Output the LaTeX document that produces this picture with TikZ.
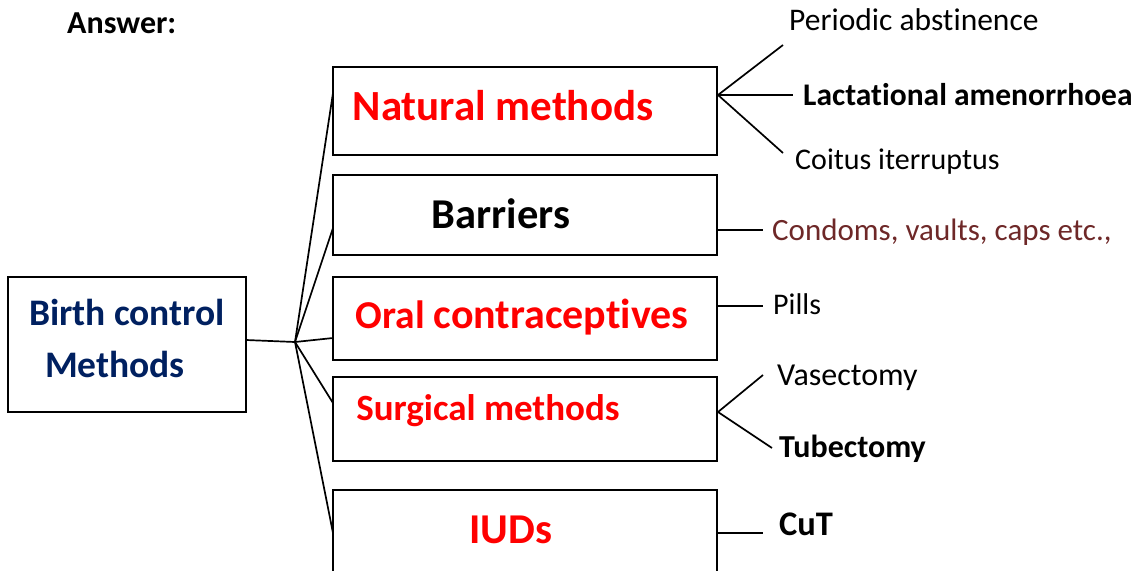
\documentclass[tikz,border=0pt]{standalone}
\usepackage{fontspec}
\setmainfont{Carlito}[Ligatures=CommonOff]
\definecolor{navy}{RGB}{0,32,96}
\definecolor{maroon}{RGB}{110,40,40}
\newcommand{\fs}[1]{\fontsize{#1}{#1}\selectfont}
\begin{document}
\begin{tikzpicture}[x=1pt,y=-1pt,
  box/.style={draw,line width=1.8pt,inner sep=0pt},
  link/.style={line width=1.7pt},
  leaf/.style={anchor=west,inner sep=0pt}]
\useasboundingbox (0,0) rectangle (1139,570);
\begin{scope}
\clip (0,0) rectangle (1139,570);
% heading
\node[leaf,font=\fs{32}\bfseries] (ans) at (67,23) {Answer:};

% root box
\draw[box] (8,277) rectangle (246,412);
\coordinate (rootE) at (246,340);
\node[font=\fs{37.5}\bfseries,text=navy] (root1) at (127,312) {Birth control};
\node[font=\fs{37.5}\bfseries,text=navy] (root2) at (115,364) {Methods};

% category boxes
\draw[box] (333,67) rectangle (717,155);
\draw[box] (333,175) rectangle (717,255);
\draw[box] (333,277) rectangle (717,360);
\draw[box] (333,377) rectangle (717,461);
\draw[box] (333,490) rectangle (717,575);

\node[font=\fs{43}\bfseries,text=red] (nat) at (503,106) {Natural methods};
\node[font=\fs{42.5}\bfseries] (bar) at (501,214) {Barriers};
\node[font=\bfseries,text=red] (oral) at (522,317) {\fs{39.5}Oral \fs{42}contraceptives};
\node[font=\fs{37}\bfseries,text=red] (surg) at (488,411) {Surgical methods};
\node[font=\fs{42.5}\bfseries,text=red] (iud) at (511,530) {IUDs};

% fan from the root to the categories
\coordinate (hub) at (295,342);
\coordinate (natW) at (333,93);
\coordinate (barW) at (333,228);
\coordinate (oralW) at (333,338);
\coordinate (surgW) at (333,403);
\coordinate (iudW) at (333,533);
\draw[link] (rootE) -- (hub);
\foreach \t in {natW,barW,oralW,surgW,iudW} \draw[link] (hub) -- (\t);

% natural methods
\coordinate (natE) at (718,95);
\coordinate (n1) at (783,45);
\coordinate (n2) at (793,95);
\coordinate (n3) at (783,153);
\draw[link] (natE) -- (n1);
\draw[link] (natE) -- (n2);
\draw[link] (natE) -- (n3);
\node[leaf,font=\fs{31.5}] (pa) at (789,20) {Periodic abstinence};
\node[leaf,font=\fs{31.5}\bfseries] (la) at (803,95) {Lactational amenorrhoea};
\node[leaf,font=\fs{30}] (ci) at (795,162) {Coitus iterruptus};

% barriers
\coordinate (barE) at (718,230);
\coordinate (b1) at (763,230);
\draw[link] (barE) -- (b1);
\node[leaf,font=\fs{31}\color{maroon}] (cv) at (772,232) {Condoms, vaults, caps etc.,};

% oral contraceptives
\coordinate (oralE) at (718,306);
\coordinate (o1) at (763,306);
\draw[link] (oralE) -- (o1);
\node[leaf,font=\fs{30}] (pi) at (773,304) {Pills};

% surgical methods
\coordinate (surgE) at (718,412);
\coordinate (s1) at (763,375);
\coordinate (s2) at (772,448);
\draw[link] (surgE) -- (s1);
\draw[link] (surgE) -- (s2);
\node[leaf,font=\fs{32}] (va) at (777,378) {Vasectomy};
\node[leaf,font=\fs{32}\bfseries] (tu) at (779,449) {Tubectomy};

% IUDs
\coordinate (iudE) at (718,533);
\coordinate (i1) at (763,533);
\draw[link] (iudE) -- (i1);
\node[leaf,font=\fs{34.5}\bfseries] (cut) at (779,524) {CuT};
\end{scope}
\end{tikzpicture}
\end{document}
